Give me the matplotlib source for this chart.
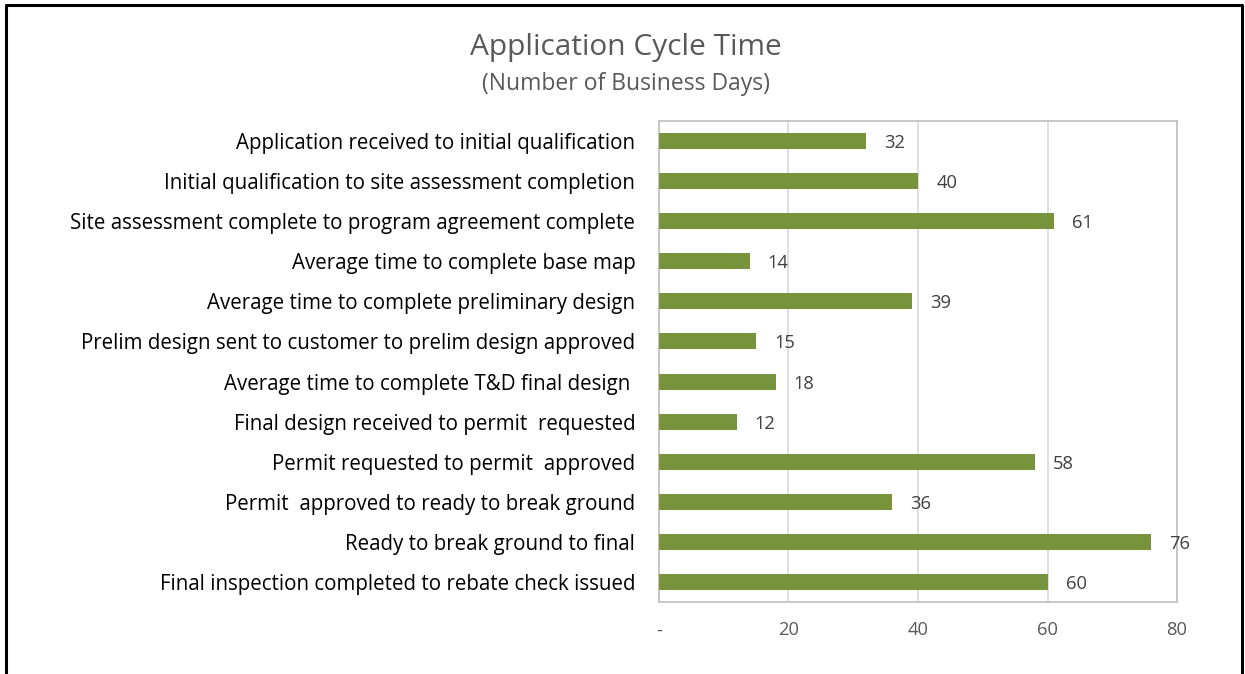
import matplotlib
matplotlib.use('Agg')
import matplotlib.pyplot as plt
from matplotlib.lines import Line2D

categories = [
    'Application received to initial qualification',
    'Initial qualification to site assessment completion',
    'Site assessment complete to program agreement complete',
    'Average time to complete base map',
    'Average time to complete preliminary design',
    'Prelim design sent to customer to prelim design approved',
    'Average time to complete T&D final design ',
    'Final design received to permit  requested',
    'Permit requested to permit  approved',
    'Permit  approved to ready to break ground',
    'Ready to break ground to final',
    'Final inspection completed to rebate check issued',
]
days = [32, 40, 61, 14, 39, 15, 18, 12, 58, 36, 76, 60]
xticks = [0, 20, 40, 60, 80]
xtick_labels = ['-', '20', '40', '60', '80']

bar_color = '#77933C'
plt.rcParams['font.family'] = ['Open Sans', 'DejaVu Sans']

fig = plt.figure(figsize=(12.45, 6.74), dpi=100)
ax = fig.add_axes([0.5293, 0.1068, 0.9454 - 0.5293, 0.8205 - 0.1068])

ypos = list(range(len(categories)))
ax.barh(ypos, days, height=0.4, color=bar_color, zorder=3)
for y, v in zip(ypos, days):
    ax.text(v + 2.8, y, str(v), va='center_baseline', ha='left', fontsize=13.2, color='#404040')

ax.set_xlim(0, 80)
ax.set_ylim(11.5, -0.5)
ax.set_yticks(ypos, categories, fontsize=14.8, color='black')
ax.set_xticks(xticks, xtick_labels, fontsize=13.2, color='#595959')
for lbl in ax.get_yticklabels():
    lbl.set_verticalalignment('center_baseline')
ax.tick_params(axis='y', length=0, pad=17)
ax.tick_params(axis='x', length=0, pad=14)
ax.grid(axis='x', color='#D9D9D9', linewidth=1.2, zorder=0)
for s in ax.spines.values():
    s.set_color('#BFBFBF')
    s.set_linewidth(1.2)

fig.text(0.5 * (470 + 782) / 1245, 1 - 47 / 674, 'Application Cycle Time', ha='center', va='center',
         fontsize=21.5, color='#595959')
fig.text(0.5 * (481 + 771) / 1245, 1 - 84 / 674, '(Number of Business Days)', ha='center', va='center',
         fontsize=16.5, color='#595959')

# outer frame (no bottom edge)
fig.add_artist(Line2D([6 / 1245, 6 / 1245, 1242 / 1245, 1242 / 1245], [0, 1 - 4.5 / 674, 1 - 4.5 / 674, 0],
                      color='black', linewidth=2.2, transform=fig.transFigure))

fig.savefig('out.png', dpi=100)
